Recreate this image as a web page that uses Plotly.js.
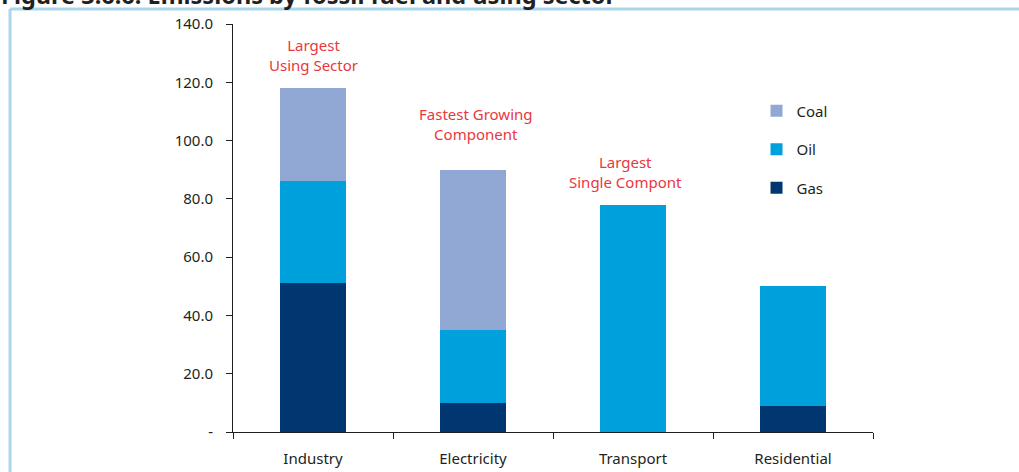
<!DOCTYPE html>
<html>
<head>
<meta charset="utf-8">
<script src="https://cdn.plot.ly/plotly-3.0.1.min.js"></script>
<style>html,body{margin:0;padding:0;background:#fff;}#chart{width:1019px;height:472px;}</style>
</head>
<body>
<div id="chart"></div>
<script>
const sectors = ["Industry", "Electricity", "Transport", "Residential"];
const gas  = [51, 10, 0, 9];
const oil  = [35, 25, 78, 41];
const coal = [32, 55, 0, 0];
const yTickVals = [0, 20, 40, 60, 80, 100, 120, 140];
const yTickText = ["-", "20.0", "40.0", "60.0", "80.0", "100.0", "120.0", "140.0"];
const notes = [
  {sector: "Industry", value: 118, text: "Largest<br>Using Sector", dy: 11, dx: 0},
  {sector: "Electricity", value: 90, text: "Fastest Growing<br>Component", dy: 24, dx: 3},
  {sector: "Transport", value: 78, text: "Largest<br>Single Compont", dy: 11, dx: -8}
];
const titleText = "Figure 3.6.6: Emissions by fossil fuel and using sector";

const FONT = "Noto Sans, Liberation Sans, sans-serif";
const traces = [
  {type: "bar", name: "Gas", x: sectors, y: gas, marker: {color: "#003770"}, legendgroup: "g", legendrank: 3},
  {type: "bar", name: "Oil", x: sectors, y: oil, marker: {color: "#00a0dc"}, legendgroup: "o", legendrank: 2},
  {type: "bar", name: "Coal", x: sectors, y: coal, marker: {color: "#91a8d4"}, legendgroup: "c", legendrank: 1}
];

const annotations = notes.map(n => ({
  x: n.sector, y: n.value, xref: "x", yref: "y",
  text: n.text, showarrow: false, yanchor: "bottom", yshift: n.dy, xshift: n.dx,
  font: {family: FONT, size: 15, color: "#e8383d"}, align: "center"
}));
annotations.push({
  xref: "paper", yref: "paper", x: -0.365, y: 1.028, xanchor: "left", yanchor: "bottom",
  text: "<b>" + titleText + "</b>", showarrow: false,
  font: {family: FONT, size: 23.5, color: "#231f20"}
});

const layout = {
  width: 1019, height: 472,
  margin: {l: 233, r: 146, t: 24, b: 40},
  paper_bgcolor: "#fff", plot_bgcolor: "#fff",
  barmode: "stack", bargap: 0.59,
  font: {family: FONT, size: 15, color: "#231f20"},
  showlegend: true,
  legend: {x: 0.818, y: 0.827, xanchor: "left", yanchor: "top",
           traceorder: "grouped", tracegroupgap: 16,
           font: {family: FONT, size: 15, color: "#231f20"}, itemwidth: 30},
  xaxis: {showline: true, linecolor: "#231f20", linewidth: 1, ticks: "outside", ticklen: 6,
          tickcolor: "#231f20", tickson: "boundaries", showgrid: false, zeroline: false,
          ticklabelstandoff: 13, tickfont: {family: FONT, size: 15, color: "#231f20"}},
  yaxis: {range: [0, 140], tickvals: yTickVals, ticktext: yTickText, showline: true,
          linecolor: "#231f20", linewidth: 1, ticks: "outside", ticklen: 6, tickcolor: "#231f20",
          showgrid: false, zeroline: false, ticklabelstandoff: 10,
          tickfont: {family: FONT, size: 15, color: "#231f20"}},
  annotations: annotations,
  shapes: [
    {type: "line", xref: "paper", yref: "paper", x0: -0.3484, x1: 1.3, y0: 1.0368, y1: 1.0368,
     line: {color: "#aad6ec", width: 3}},
    {type: "line", xref: "paper", yref: "paper", x0: -0.3484, x1: -0.3484, y0: 1.0368, y1: -0.2,
     line: {color: "#aad6ec", width: 3}}
  ]
};
Plotly.newPlot("chart", traces, layout, {displayModeBar: false, staticPlot: true});
</script>
</body>
</html>
